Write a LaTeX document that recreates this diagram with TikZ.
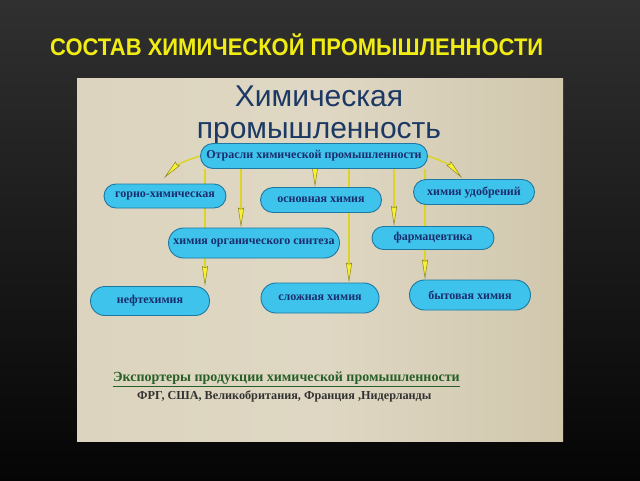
\documentclass[tikz,border=0pt]{standalone}
\usepackage{fontspec}
\setmainfont{Liberation Serif}
\setsansfont{Liberation Sans}
\usetikzlibrary{arrows.meta,shapes.misc}
\pgfdeclarelayer{back}
\pgfdeclarelayer{conns}
\pgfsetlayers{back,conns,main}
\definecolor{bgtop}{RGB}{48,48,48}
\definecolor{bgbot}{RGB}{5,5,5}
\definecolor{titley}{RGB}{240,236,20}
\definecolor{panelA}{RGB}{220,212,190}
\definecolor{panelB}{RGB}{208,199,173}
\definecolor{headblue}{RGB}{28,56,100}
\definecolor{pillfill}{RGB}{62,196,236}
\definecolor{pilledge}{RGB}{30,120,160}
\definecolor{pilltext}{RGB}{25,45,110}
\definecolor{connline}{RGB}{222,212,40}
\definecolor{connedge}{RGB}{140,130,30}
\definecolor{connyellow}{RGB}{248,242,50}
\definecolor{expgreen}{RGB}{40,95,40}
\definecolor{cntry}{RGB}{50,50,50}
\tikzset{
  pill/.style={rounded rectangle, fill=pillfill, draw=pilledge, line width=0.9pt,
    text=pilltext, font=\bfseries\fontsize{12}{13}\selectfont, inner sep=2pt},
  conn/.style={draw=connline, line width=1.5pt,
    -{Stealth[length=20pt,width=6pt,inset=1.5pt,color=connedge,fill=connyellow,line width=0.5pt]}}
}
\begin{document}
\begin{tikzpicture}[x=1pt,y=-1pt]
\useasboundingbox (0,0) rectangle (640,480);
\begin{pgfonlayer}{back}
\shade[top color=bgtop,bottom color=bgbot] (0,0) rectangle (640,480);
\shade[left color=panelA,right color=panelB,middle color=panelA!92!white] (77,78) rectangle (563,441);
\end{pgfonlayer}

\node[anchor=west, text=titley, inner sep=0pt] (title) at (50,45)
  {\resizebox{493pt}{\height}{\sffamily\bfseries\fontsize{24}{24}\selectfont СОСТАВ ХИМИЧЕСКОЙ ПРОМЫШЛЕННОСТИ}};

\node[align=center, text=headblue, font=\sffamily\fontsize{30}{32}\selectfont, inner sep=0pt] (head) at (319,115)
  {Химическая\\промышленность};

\node[pill, minimum width=231pt, minimum height=25pt] (top) at (314,156) {Отрасли химической промышленности};
\node[pill, minimum width=126pt, minimum height=24pt] (gorno) at (165,196) {горно-химическая};
\node[pill, minimum width=125pt, minimum height=25pt] (osn) at (321,200) {основная химия};
\node[pill, minimum width=125pt, minimum height=25pt] (udob) at (474,192) {химия удобрений};
\node[pill, minimum width=175pt, minimum height=30pt] (org) at (254,243) {химия органического синтеза};
\node[pill, minimum width=126pt, minimum height=23pt] (farm) at (433,238) {фармацевтика};
\node[pill, minimum width=123pt, minimum height=29pt] (neft) at (150,301) {нефтехимия};
\node[pill, minimum width=122pt, minimum height=30pt] (slozh) at (320,298) {сложная химия};
\node[pill, minimum width=125pt, minimum height=30pt] (byt) at (470,295) {бытовая химия};

\coordinate (xa) at (205,0);
\coordinate (xb) at (241,0);
\coordinate (xc) at (315,0);
\coordinate (xd) at (349,0);
\coordinate (xe) at (394,0);
\coordinate (xf) at (425,0);
\coordinate (gtip) at (164,178);
\coordinate (utip) at (462,178);

\begin{pgfonlayer}{conns}
\draw[conn] (top.south -| xa) -- (neft.north -| xa);
\draw[conn] (top.south -| xb) -- (org.north -| xb);
\draw[conn] (top.south -| xc) -- (osn.north -| xc);
\draw[conn] (top.south -| xd) -- (slozh.north -| xd);
\draw[conn] (top.south -| xe) -- (farm.north -| xe);
\draw[conn] (top.south -| xf) -- (byt.north -| xf);
\draw[conn] (top.west) to[bend right=15] (gtip);
\draw[conn] (top.east) to[bend left=15] (utip);
\end{pgfonlayer}

\node[anchor=west, text=expgreen, font=\bfseries\fontsize{14}{16}\selectfont, inner sep=0pt] (exp) at (113,379)
  {\underline{Экспортеры продукции химической промышленности}};
\node[anchor=west, text=cntry, font=\bfseries\fontsize{12.2}{14}\selectfont, inner sep=0pt] (cnt) at (137,396)
  {ФРГ, США, Великобритания, Франция ,Нидерланды};
\end{tikzpicture}
\end{document}
